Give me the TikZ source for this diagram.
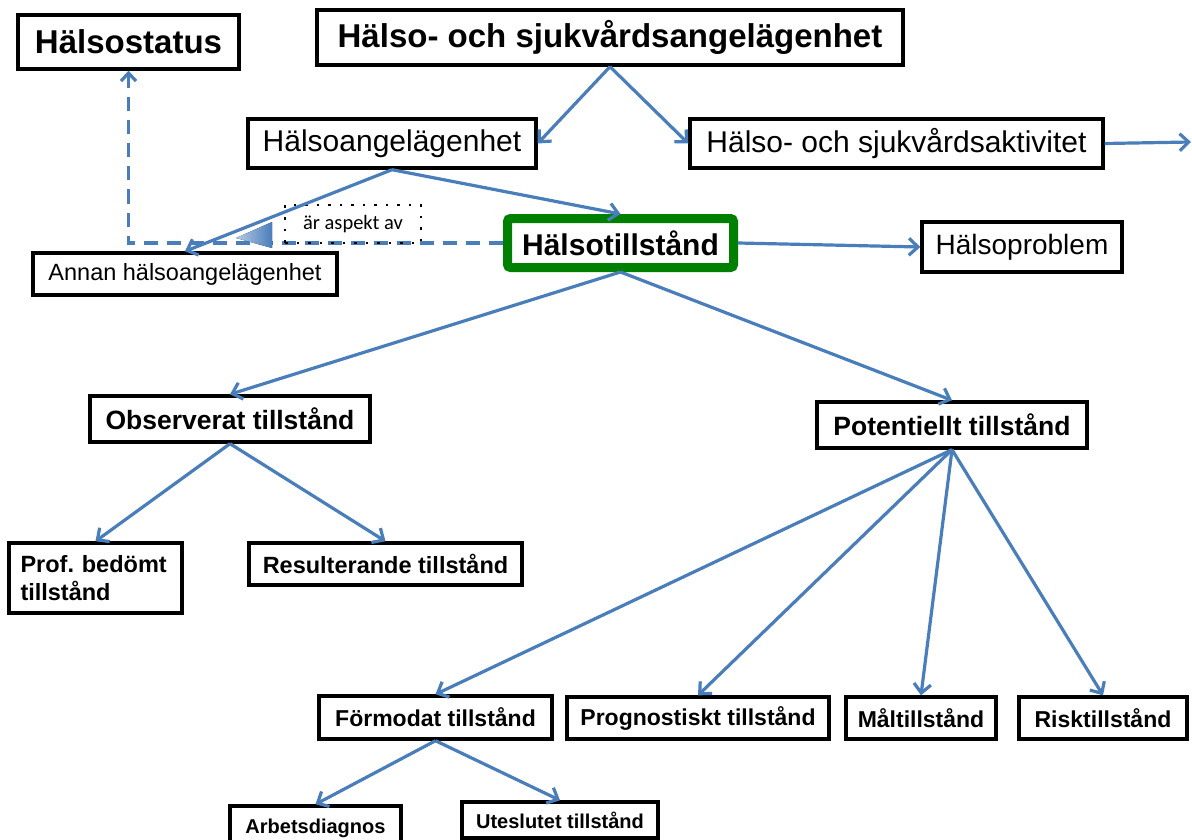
\documentclass[tikz,border=0pt]{standalone}
\usepackage{fontspec}
\setmainfont{Liberation Sans}
\newfontfamily\notefont{Carlito}
\usetikzlibrary{arrows.meta}
\definecolor{linkblue}{RGB}{74,126,187}
\definecolor{statgreen}{RGB}{0,128,0}
\tikzset{
  box/.style={draw=black, line width=3.4pt, fill=white, inner sep=0pt, align=center},
  link/.style={draw=linkblue, line width=3.2pt, -{Straight Barb[length=9pt,width=17pt,line width=3.2pt]}},
  aspect/.style={draw=linkblue, line width=3.2pt, dash pattern=on 14pt off 9pt,
                 -{Straight Barb[length=8pt,width=15pt,line width=3.2pt]}},
}
\newcommand{\fsz}[1]{\fontsize{#1}{#1}\selectfont}
\begin{document}
\frenchspacing
\begin{tikzpicture}[x=1pt,y=-1pt]
\useasboundingbox (0,0) rectangle (1192,840);
\clip (0,0) rectangle (1192,840);

% top level
\node[box, minimum width=221pt, minimum height=54pt, font=\fsz{33}\bfseries] (hs) at (128.5,42) {Hälsostatus};
\node[box, minimum width=586pt, minimum height=55pt, font=\fsz{33}\bfseries] (hsa) at (610,37.5) {Hälso- och sjukvårdsangelägenhet};
\node[box, minimum width=288pt, minimum height=49pt, font=\fsz{30}] (ha) at (392,143.5) {Hälsoangelägenhet};
\node[box, minimum width=413pt, minimum height=49pt, font=\fsz{30}] (hsakt) at (896.5,143.5) {Hälso- och sjukvårdsaktivitet};
\coordinate (out) at (1191,142);

% health state and neighbours
\node[draw=statgreen, line width=9pt, rounded corners=3pt, fill=white, inner sep=0pt,
      minimum width=226pt, minimum height=49pt, font=\fsz{30}\bfseries] (ht) at (620.5,243) {Hälsotillstånd};
\node[box, minimum width=200pt, minimum height=50pt, font=\fsz{28}] (hp) at (1022,247) {Hälsoproblem};
\node[box, minimum width=304pt, minimum height=42pt, font=\fsz{23.5}] (annan) at (185,274) {Annan hälsoangelägenhet};

% dashed "is aspect of" link
\draw[aspect] (ht.west) -| (hs.south);
\node[draw=black, line width=2.5pt, dash pattern=on 2.5pt off 9pt, inner sep=0pt,
      minimum width=136pt, minimum height=38pt, font=\notefont\fsz{20.5}] (asp) at (353,224) {är aspekt av};
\fill[left color=linkblue!40, right color=linkblue] (236,238) -- (272,222) -- (272,248) -- cycle;

% second level
\node[box, minimum width=280pt, minimum height=46pt, font=\fsz{26.5}\bfseries] (obs) at (230,419) {Observerat tillstånd};
\node[box, minimum width=270pt, minimum height=46pt, font=\fsz{26.5}\bfseries] (pot) at (952,425) {Potentiellt tillstånd};

% observed states
\node[box, minimum width=173pt, minimum height=70pt, font=\fsz{23.5}\bfseries, align=left, text width=150pt] (prof) at (95.5,578) {Prof. bedömt\\[4pt]tillstånd};
\node[box, minimum width=273pt, minimum height=42pt, font=\fsz{23.5}\bfseries] (res) at (385.5,564) {Resulterande tillstånd};

% potential states
\node[box, minimum width=233pt, minimum height=43pt, font=\fsz{23}\bfseries] (form) at (435.5,717.5) {Förmodat tillstånd};
\node[box, minimum width=262pt, minimum height=42pt, font=\fsz{23}\bfseries] (prog) at (698,718) {Prognostiskt tillstånd};
\node[box, minimum width=150pt, minimum height=42pt, font=\fsz{23}\bfseries] (mal) at (921,718) {Måltillstånd};
\node[box, minimum width=168pt, minimum height=42pt, font=\fsz{23}\bfseries] (risk) at (1103,718) {Risktillstånd};

% presumed states
\node[box, minimum width=171pt, minimum height=44pt, font=\fsz{20}\bfseries] (arb) at (315.5,828) {Arbetsdiagnos};
\node[box, minimum width=196pt, minimum height=36pt, font=\fsz{20}\bfseries] (ute) at (560,820) {Uteslutet tillstånd};

% connectors
\draw[link] (hsa.south) -- (ha.east);
\draw[link] (hsa.south) -- (hsakt.west);
\draw[link] (hsakt.east) -- (out);
\draw[link] (ha.south) -- (annan.north);
\draw[link] (ha.south) -- (ht.north);
\draw[link] (ht.east) -- (hp.west);
\draw[link] (ht.south) -- (obs.north);
\draw[link] (ht.south) -- (pot.north);
\draw[link] (obs.south) -- (prof.north);
\draw[link] (obs.south) -- (res.north);
\draw[link] (pot.south) -- (form.north);
\draw[link] (pot.south) -- (prog.north);
\draw[link] (pot.south) -- (mal.north);
\draw[link] (pot.south) -- (risk.north);
\draw[link] (form.south) -- (arb.north);
\draw[link] (form.south) -- (ute.north);
\end{tikzpicture}
\end{document}
